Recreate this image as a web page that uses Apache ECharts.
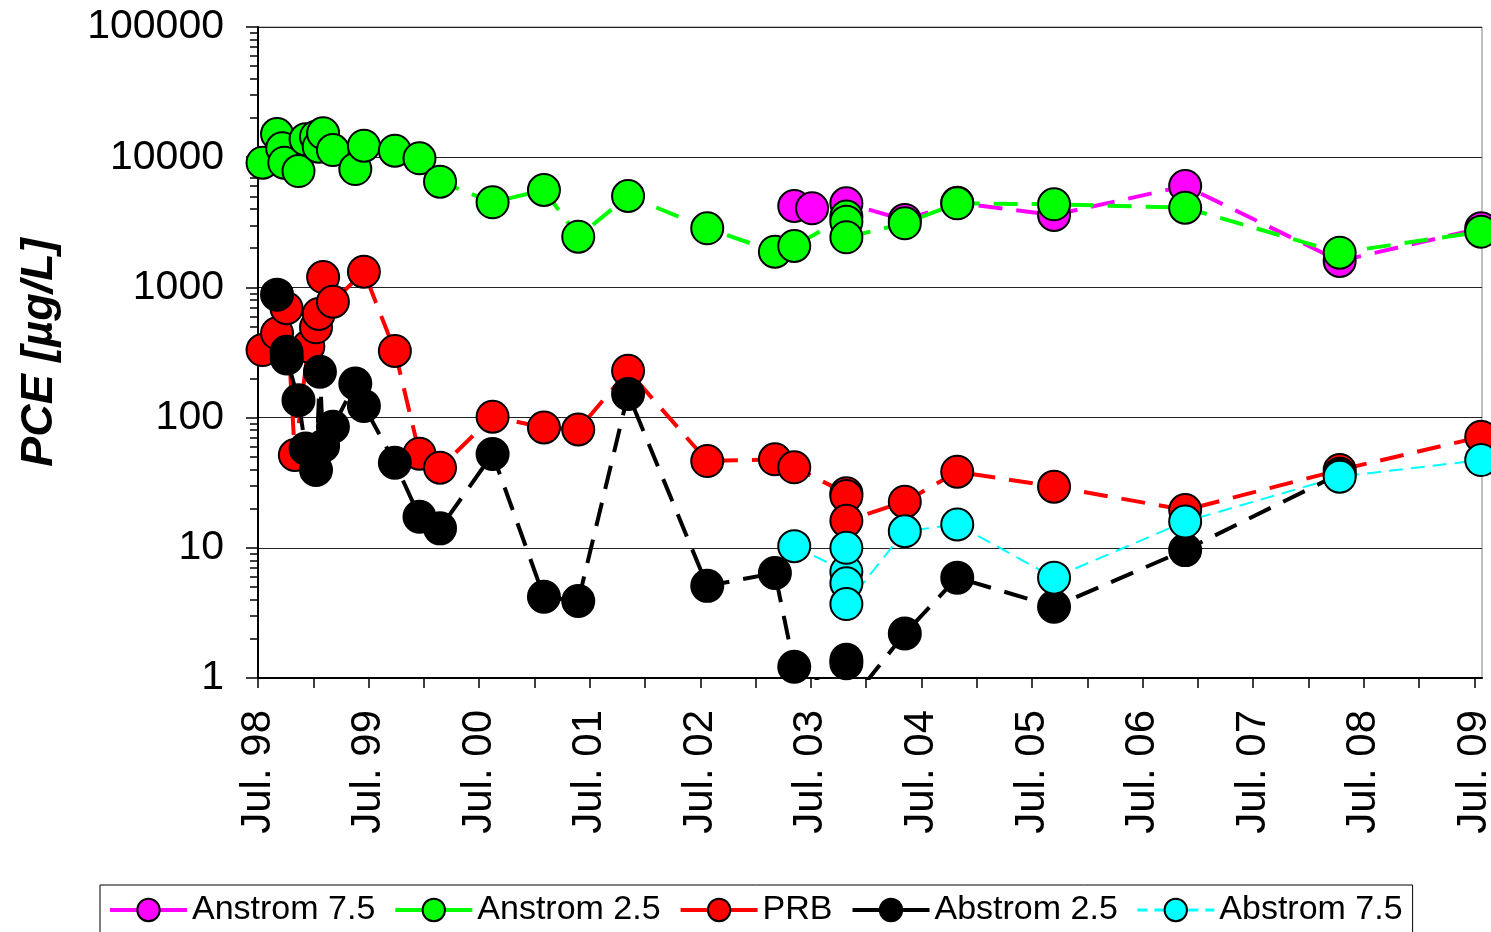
<!DOCTYPE html>
<html>
<head>
<meta charset="utf-8">
<script src="https://cdn.jsdelivr.net/npm/echarts@6/dist/echarts.min.js"></script>
<style>
  html, body { margin: 0; padding: 0; background: #fff; }
  #chart { width: 1491px; height: 932px; }
</style>
</head>
<body>
<div id="chart"></div>
<script>
const FONT = '"Liberation Sans", Arial, sans-serif';

// PCE concentrations [µg/L] per monitoring well, with sampling dates
const anstrom75Dates = ['2003-05-07', '2003-07-05', '2003-10-27', '2004-05-07', '2004-10-28',
  '2005-09-13', '2006-11-20', '2008-04-13', '2009-07-24'];
const anstrom75Values = [4220, 4050, 4425, 3300, 4460, 3600, 6010, 1595, 2845];

const anstrom25Dates = ['1998-07-16', '1998-09-03', '1998-09-20', '1998-09-27', '1998-11-13',
  '1998-12-06', '1999-01-10', '1999-01-19', '1999-02-03', '1999-03-05', '1999-05-18',
  '1999-06-16', '1999-09-27', '1999-12-17', '2000-02-24', '2000-08-15', '2001-02-02',
  '2001-05-24', '2001-11-06', '2002-07-24', '2003-03-04', '2003-05-07', '2003-10-27',
  '2003-10-27', '2003-10-27', '2004-05-07', '2004-10-28', '2005-09-13', '2006-11-20',
  '2008-04-13', '2009-07-24'];
const anstrom25Values = [9070, 15070, 11700, 9070, 7830, 13710, 14370, 12050, 15270, 11350, 8110,
  12250, 11220, 9810, 6490, 4505, 5600, 2450, 5035, 2845, 1880, 2080, 3500, 3200, 2425,
  3105, 4425, 4345, 4095, 1848, 2680];

const prbDates = ['1998-07-16', '1998-09-03', '1998-10-04', '1998-11-01', '1998-12-15',
  '1999-01-10', '1999-01-19', '1999-02-03', '1999-03-05', '1999-06-16', '1999-09-27',
  '1999-12-17', '2000-02-24', '2000-08-15', '2001-02-02', '2001-05-24', '2001-11-06',
  '2002-07-24', '2003-03-04', '2003-05-07', '2003-10-27', '2003-10-27', '2003-10-27',
  '2004-05-07', '2004-10-28', '2005-09-13', '2006-11-20', '2008-04-13', '2009-07-24'];
const prbValues = [330, 444, 692, 51.6, 351, 494, 625, 1200, 776, 1320, 325, 52.8, 41.2,
  101.6, 84, 81, 229, 46.4, 47.8, 41.5, 26.2, 25, 16.1, 22.6, 38.4, 29.5, 19.5, 39.6, 71.3];

const abstrom25Dates = ['1998-09-03', '1998-10-04', '1998-10-05', '1998-11-13', '1998-12-06',
  '1999-01-10', '1999-01-23', '1999-02-03', '1999-03-05', '1999-05-18', '1999-06-16',
  '1999-09-27', '1999-12-17', '2000-02-24', '2000-08-15', '2001-02-02', '2001-05-24',
  '2001-11-06', '2002-07-24', '2003-03-04', '2003-05-07', '2003-10-27', '2003-10-27',
  '2003-10-27', '2003-10-27', '2004-05-07', '2004-10-28', '2005-09-13', '2006-11-20',
  '2008-04-13'];
const abstrom25Values = [880, 321, 285, 136, 58, 39.6, 225, 60.5, 85, 183, 123, 45, 17.3, 14.1,
  52.5, 4.2, 3.9, 152, 5.1, 6.4, 1.22, 0.7, 1.38, 1.3, 0.6, 2.2, 5.9, 3.53, 9.6, 37];

const abstrom75Dates = ['2003-05-07', '2003-10-27', '2003-10-27', '2003-10-27', '2003-10-27',
  '2004-05-07', '2004-10-28', '2005-09-13', '2006-11-20', '2008-04-13', '2009-07-24'];
const abstrom75Values = [10.3, 6.55, 10.0, 5.34, 3.7, 13.4, 15.1, 5.9, 15.9, 35.2, 47.2];

// Axis labelling
const xLabelText = ['Jul. 98', 'Jul. 99', 'Jul. 00', 'Jul. 01', 'Jul. 02', 'Jul. 03',
  'Jul. 04', 'Jul. 05', 'Jul. 06', 'Jul. 07', 'Jul. 08', 'Jul. 09'];
const xLabelYears = [1998.5, 1999.5, 2000.5, 2001.5, 2002.5, 2003.5,
  2004.5, 2005.5, 2006.5, 2007.5, 2008.5, 2009.5];
const yMinorFactors = [2, 3, 4, 5, 6, 7, 8, 9];

const X_MIN = 1998.5;
const X_MAX = 2009.57;

// Date string -> decimal year (July 1st = .5)
function toYear(s) {
  const [y, m, d] = s.split('-').map(Number);
  return y + (m - 1) / 12 + (d - 1) / 365;
}
function pairs(dates, values) {
  return dates.map((d, i) => [toYear(d), values[i]]);
}

// Half-year tick marks (January and July)
const xTickYears = [];
xLabelYears.forEach(v => {
  xTickYears.push(v);
  if (v + 0.5 < X_MAX) xTickYears.push(v + 0.5);
});
// Minor log ticks, expressed as exponents for the helper axis
const yMinorExp = [];
for (let e = 0; e < 5; e++) yMinorFactors.forEach(f => yMinorExp.push(e + Math.log10(f)));

function lineSeries(name, data, color, width, dash, clip) {
  return {
    name, type: 'line', data, clip,
    symbol: 'circle', symbolSize: 32,
    itemStyle: { color, borderColor: '#000', borderWidth: 2 },
    lineStyle: { color, width, type: dash },
    emphasis: { disabled: true }
  };
}

const chart = echarts.init(document.getElementById('chart'), null, { renderer: 'canvas' });
chart.setOption({
  animation: false,
  backgroundColor: '#fff',
  textStyle: { fontFamily: FONT },
  grid: {
    left: 258, right: 9, top: 27, bottom: 254,
    outerBoundsMode: 'none', containLabel: false,
    show: true, borderColor: '#808080', borderWidth: 1
  },
  legend: {
    left: 100, top: 885,
    padding: [8, 10, 8, 8],
    itemGap: 18, itemWidth: 77, itemHeight: 28,
    borderColor: '#000', borderWidth: 1,
    textStyle: { fontSize: 34, color: '#000', fontFamily: FONT },
    data: [
      { name: 'Anstrom 7.5', lineStyle: { type: 'solid', width: 4 } },
      { name: 'Anstrom 2.5', lineStyle: { type: 'solid', width: 4 } },
      { name: 'PRB', lineStyle: { type: 'solid', width: 4 } },
      { name: 'Abstrom 2.5', lineStyle: { type: 'solid', width: 4 } },
      { name: 'Abstrom 7.5', lineStyle: { type: [10, 7], width: 3 } }
    ]
  },
  xAxis: {
    type: 'value', min: X_MIN, max: X_MAX,
    axisLine: { show: true, onZero: false, lineStyle: { color: '#000', width: 2 } },
    axisTick: { show: true, customValues: xTickYears, length: 10, lineStyle: { color: '#000', width: 1.5 } },
    axisLabel: {
      customValues: xLabelYears, rotate: 90, margin: 32,
      fontSize: 42, color: '#000', fontFamily: FONT,
      formatter: v => {
        const i = xLabelYears.findIndex(y => Math.abs(y - v) < 1e-6);
        return i >= 0 ? xLabelText[i] : '';
      }
    },
    splitLine: { show: false }
  },
  yAxis: [
    {
      type: 'log', logBase: 10, min: 1, max: 100000,
      name: 'PCE [µg/L]', nameLocation: 'middle', nameGap: 196, nameRotate: 90,
      nameTextStyle: { fontSize: 45, fontWeight: 'bold', fontStyle: 'italic', color: '#000', fontFamily: FONT },
      axisLine: { show: true, lineStyle: { color: '#000', width: 2 } },
      axisTick: { show: true, length: 12, lineStyle: { color: '#000', width: 1.5 } },
      axisLabel: { fontSize: 41, color: '#000', margin: 34, fontFamily: FONT,
        formatter: v => String(Math.round(v)) },
      splitLine: { show: true, lineStyle: { color: '#222', width: 1 } }
    },
    {
      type: 'value', min: 0, max: 5, position: 'left',
      axisLine: { show: false },
      axisLabel: { show: false },
      splitLine: { show: false },
      axisTick: { show: true, customValues: yMinorExp, length: 8, lineStyle: { color: '#000', width: 1.5 } }
    }
  ],
  series: [
    lineSeries('Anstrom 7.5', pairs(anstrom75Dates, anstrom75Values), '#ff00ff', 4, [24, 14], false),
    lineSeries('Anstrom 2.5', pairs(anstrom25Dates, anstrom25Values), '#00ff00', 4, [24, 14], false),
    lineSeries('PRB', pairs(prbDates, prbValues), '#ff0000', 4, [24, 14], false),
    lineSeries('Abstrom 2.5', pairs(abstrom25Dates, abstrom25Values), '#000000', 4, [24, 14], true),
    lineSeries('Abstrom 7.5', pairs(abstrom75Dates, abstrom75Values), '#00ffff', 2, [14, 8], false)
  ]
});
</script>
</body>
</html>
